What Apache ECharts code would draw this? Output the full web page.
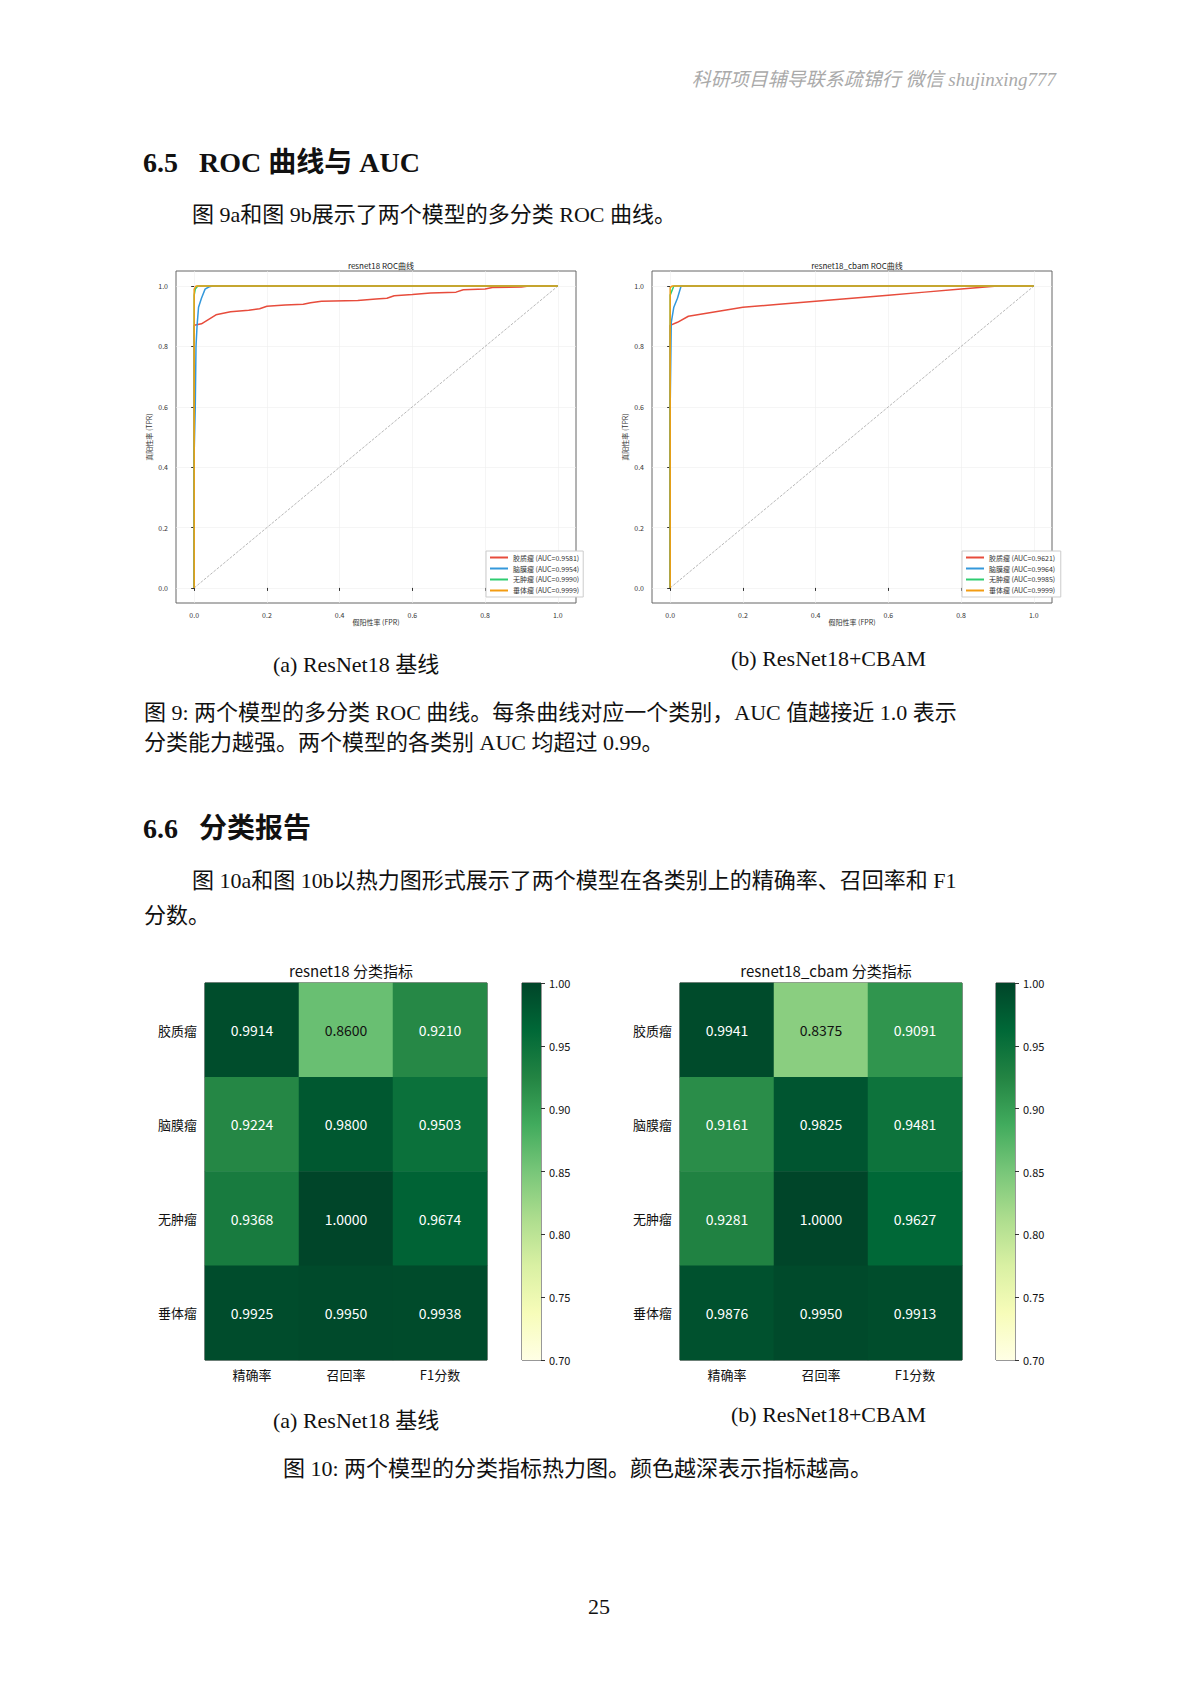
<!DOCTYPE html>
<html><head><meta charset="utf-8">
<script src="https://cdn.jsdelivr.net/npm/echarts@6/dist/echarts.min.js"></script>
<style>
body{margin:0;background:#fff;}
#page{position:relative;width:1191px;height:1684px;font-family:"Liberation Serif","Noto Sans CJK SC",serif;color:#111;}
#chart{position:absolute;left:0;top:0;width:1191px;height:1684px;}
.t{position:absolute;white-space:nowrap;font-size:22px;}
</style></head><body>
<div id="page">
<div id="chart"></div>
<div class="t" style="right:135px;top:64px;color:#aaa;font-style:italic;font-size:19px;">科研项目辅导联系疏锦行 微信 shujinxing777</div>
<div class="t" style="left:143px;top:140px;font-size:28px;font-weight:bold;">6.5&nbsp;&nbsp;&nbsp;ROC 曲线与 AUC</div>
<div class="t" style="left:192px;top:196px;">图 9a和图 9b展示了两个模型的多分类 ROC 曲线。</div>
<div class="t" style="left:273px;top:646px;">(a) ResNet18 基线</div>
<div class="t" style="left:731px;top:646px;">(b) ResNet18+CBAM</div>
<div class="t" style="left:144px;top:694px;">图 9: 两个模型的多分类 ROC 曲线。每条曲线对应一个类别，AUC 值越接近 1.0 表示</div>
<div class="t" style="left:144px;top:724px;">分类能力越强。两个模型的各类别 AUC 均超过 0.99。</div>
<div class="t" style="left:143px;top:806px;font-size:28px;font-weight:bold;">6.6&nbsp;&nbsp;&nbsp;分类报告</div>
<div class="t" style="left:192px;top:862px;">图 10a和图 10b以热力图形式展示了两个模型在各类别上的精确率、召回率和 F1</div>
<div class="t" style="left:144px;top:897px;">分数。</div>
<div class="t" style="left:273px;top:1402px;">(a) ResNet18 基线</div>
<div class="t" style="left:731px;top:1402px;">(b) ResNet18+CBAM</div>
<div class="t" style="left:283px;top:1450px;">图 10: 两个模型的分类指标热力图。颜色越深表示指标越高。</div>
<div class="t" style="left:588px;top:1594px;">25</div>
</div>
<script>
var classes = ['胶质瘤', '脑膜瘤', '无肿瘤', '垂体瘤'];
var metrics = ['精确率', '召回率', 'F1分数'];
var aucA = ['0.9581', '0.9954', '0.9990', '0.9999'];
var aucB = ['0.9621', '0.9964', '0.9985', '0.9999'];
var rocColors = ['#e74c3c', '#3498db', '#2ecc71', '#f39c12'];

var rocA = [
  [[0,0],[0,0.87],[0.02,0.875],[0.04,0.89],[0.06,0.905],[0.1,0.915],[0.15,0.92],[0.18,0.925],[0.2,0.933],[0.25,0.937],[0.3,0.94],[0.32,0.945],[0.35,0.95],[0.45,0.952],[0.5,0.957],[0.53,0.96],[0.55,0.968],[0.6,0.972],[0.65,0.977],[0.72,0.98],[0.74,0.988],[0.8,0.99],[0.82,0.995],[0.9,0.997],[0.92,1],[1,1]],
  [[0,0],[0,0.45],[0.003,0.6],[0.005,0.8],[0.008,0.87],[0.012,0.93],[0.02,0.96],[0.03,0.99],[0.04,0.997],[0.05,1],[1,1]],
  [[0,0],[0,0.97],[0.003,0.99],[0.01,1],[1,1]],
  [[0,0],[0,0.99],[0.005,1],[1,1]]
];
var rocB = [
  [[0,0],[0,0.87],[0.02,0.88],[0.05,0.9],[0.1,0.91],[0.15,0.92],[0.2,0.93],[0.3,0.94],[0.4,0.95],[0.5,0.96],[0.6,0.97],[0.7,0.98],[0.8,0.99],[0.85,0.995],[0.9,1],[1,1]],
  [[0,0],[0,0.6],[0.003,0.88],[0.01,0.93],[0.02,0.96],[0.03,1],[1,1]],
  [[0,0],[0,0.97],[0.01,1],[1,1]],
  [[0,0],[0,0.995],[0.005,1],[1,1]]
];
var diag = [[0,0],[1,1]];

var scoresA = [[0.9914,0.8600,0.9210],[0.9224,0.9800,0.9503],[0.9368,1.0000,0.9674],[0.9925,0.9950,0.9938]];
var scoresB = [[0.9941,0.8375,0.9091],[0.9161,0.9825,0.9481],[0.9281,1.0000,0.9627],[0.9876,0.9950,0.9913]];
var rocTicks = [0, 0.2, 0.4, 0.6, 0.8, 1.0];

var ylgn = ['#ffffe5','#f7fcb9','#d9f0a3','#addd8e','#78c679','#41ab5d','#238443','#006837','#004529'];
var font = '"Noto Sans CJK SC", "Noto Sans", sans-serif';

var myChart = echarts.init(document.getElementById('chart'), null, {renderer: 'svg'});

function cells(m) {
  var out = [];
  m.forEach(function (row, r) {
    row.forEach(function (v, c) {
      out.push({value: [c, r, v], label: {color: v < 0.88 ? '#111' : '#fff'}});
    });
  });
  return out;
}

var grids = [], xAxes = [], yAxes = [], series = [], titles = [], legends = [], visualMaps = [];
var rocLefts = [176, 652];
var rocNames = ['resnet18 ROC曲线', 'resnet18_cbam ROC曲线'];
[rocA, rocB].forEach(function (roc, k) {
  var gi = grids.length;
  grids.push({left: rocLefts[k], top: 271, width: 400, height: 332, show: true, borderColor: '#666', borderWidth: 1});
  var ax = {
    type: 'value', min: -0.05, max: 1.05, gridIndex: gi,
    axisLine: {show: false},
    axisTick: {show: true, customValues: rocTicks, lineStyle: {color: '#333'}, length: 3},
    axisLabel: {customValues: rocTicks, fontSize: 7, color: '#333', fontFamily: font, formatter: function (v) { return v.toFixed(1); }},
    splitLine: {show: true, lineStyle: {color: '#eee', width: 0.6}}
  };
  xAxes.push(Object.assign({}, ax, {name: '假阳性率 (FPR)', nameLocation: 'middle', nameGap: 14, nameTextStyle: {fontSize: 7, fontFamily: font, color: '#333'}}));
  yAxes.push(Object.assign({}, ax, {name: '真阳性率 (TPR)', nameLocation: 'middle', nameGap: 24, nameTextStyle: {fontSize: 7, fontFamily: font, color: '#333'}}));
  titles.push({text: rocNames[k], left: rocLefts[k] + 200, top: 256, textAlign: 'center', textStyle: {fontSize: 8, fontWeight: 'normal', fontFamily: font, color: '#222'}});
  var aucs = k === 0 ? aucA : aucB;
  var names = [];
  roc.forEach(function (pts, i) {
    var nm = classes[i] + ' (AUC=' + aucs[i] + ')' + (k ? ' ' : '');
    names.push(nm);
    series.push({type: 'line', name: nm, xAxisIndex: gi, yAxisIndex: gi, data: pts, showSymbol: false, lineStyle: {width: 1.5, color: rocColors[i]}, itemStyle: {color: rocColors[i]}, z: 3 + i});
  });
  series.push({type: 'line', xAxisIndex: gi, yAxisIndex: gi, data: diag, showSymbol: false, silent: true, lineStyle: {width: 0.7, type: 'dashed', color: '#999'}, z: 2});
  legends.push({data: names, orient: 'vertical', left: rocLefts[k] + 310, top: 551, itemWidth: 18, itemHeight: 2, itemGap: 4, icon: 'rect',
    padding: [3, 4], borderColor: '#ccc', borderWidth: 1, backgroundColor: '#fff',
    textStyle: {fontSize: 7, fontFamily: font, color: '#333'}});
});

var hmLefts = [205, 680], cbLefts = [522, 996];
var hmNames = ['resnet18 分类指标', 'resnet18_cbam 分类指标'];
[scoresA, scoresB].forEach(function (sc, k) {
  var gi = grids.length;
  grids.push({left: hmLefts[k], top: 983, width: 282, height: 377, show: true, borderColor: '#222', borderWidth: 1});
  xAxes.push({type: 'category', data: metrics, gridIndex: gi, axisLine: {show: false}, axisTick: {alignWithLabel: true, length: 4, lineStyle: {color: '#333'}},
    axisLabel: {fontSize: 13, color: '#111', fontFamily: font}, splitLine: {show: false}});
  yAxes.push({type: 'category', data: classes, inverse: true, gridIndex: gi, axisLine: {show: false}, axisTick: {alignWithLabel: true, length: 4, lineStyle: {color: '#333'}},
    axisLabel: {fontSize: 13, color: '#111', fontFamily: font}, splitLine: {show: false}});
  titles.push({text: hmNames[k], left: hmLefts[k] + 141, top: 958, textAlign: 'center', textStyle: {fontSize: 15, fontWeight: 'normal', fontFamily: font, color: '#111'}});
  visualMaps.push({type: 'continuous', show: false, min: 0.7, max: 1.0, dimension: 2, seriesIndex: series.length, inRange: {color: ylgn}});
  series.push({type: 'heatmap', xAxisIndex: gi, yAxisIndex: gi, data: cells(sc),
    label: {show: true, fontSize: 14, fontFamily: font, formatter: function (p) { return p.value[2].toFixed(4); }}});

  var ci = grids.length;
  grids.push({left: cbLefts[k], top: 983, width: 19, height: 377, show: true, borderColor: '#333', borderWidth: 1});
  xAxes.push({type: 'category', data: [''], gridIndex: ci, show: false});
  yAxes.push({type: 'value', min: 0.7, max: 1.0, interval: 0.05, position: 'right', gridIndex: ci,
    axisLine: {show: false}, axisTick: {show: true, length: 4, lineStyle: {color: '#333'}}, splitLine: {show: false},
    axisLabel: {fontSize: 11, color: '#111', fontFamily: font, formatter: function (v) { return v.toFixed(2); }}});
  var stops = ylgn.map(function (c, i) { return {offset: 1 - i / (ylgn.length - 1), color: c}; });
  series.push({type: 'bar', xAxisIndex: ci, yAxisIndex: ci, data: [1.0], barWidth: '100%', silent: true,
    itemStyle: {color: new echarts.graphic.LinearGradient(0, 0, 0, 1, stops.reverse())}});
});

var option = {
  animation: false,
  title: titles,
  grid: grids,
  xAxis: xAxes,
  yAxis: yAxes,
  legend: legends,
  visualMap: visualMaps,
  series: series
};

myChart.setOption(option);
</script>
</body></html>
